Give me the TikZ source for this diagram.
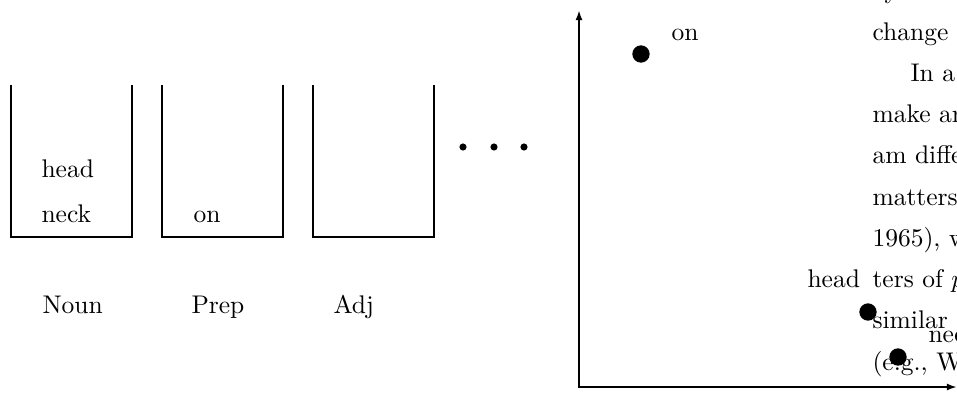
\documentclass[tikz,border=0pt]{standalone}
\usetikzlibrary{arrows.meta}
\begin{document}
\begin{tikzpicture}[x=0.392pt,y=-0.392pt,
  bin/.style={line width=1.1pt},
  word/.style={anchor=base west,inner sep=0pt},
  wpt/.style={circle,fill=black,inner sep=0pt,minimum size=6.8pt},
  ell/.style={circle,fill=black,inner sep=0pt,minimum size=2.8pt},
  axis/.style={line width=1.15pt,{Latex[length=4pt,width=2.8pt]}-{Latex[length=4pt,width=2.8pt]}}]
\useasboundingbox (0,0) rectangle (957,394);
\clip (0,0) rectangle (957,394);

% open-topped bins, one per word class
\foreach \l/\r/\n in {11/132/noun,162/283/prep,313/434/adj}{
  \coordinate (\n-tl) at (\l,85);
  \coordinate (\n-bl) at (\l,237);
  \coordinate (\n-br) at (\r,237);
  \coordinate (\n-tr) at (\r,85);
  \draw[bin] (\n-tl) -- (\n-bl) -- (\n-br) -- (\n-tr);
}

% words inside the bins
\node[word] (bhead) at (41,177) {head};
\node[word] (bneck) at (41,222) {neck};
\node[word] (bon)   at (193,222) {on};

% class labels
\node[word] (lnoun) at (42,313) {Noun};
\node[word] (lprep) at (191,313) {Prep};
\node[word] (ladj)  at (333,313) {Adj};

% ellipsis
\node[ell] (e1) at (463,147) {};
\node[ell] (e2) at (494,147) {};
\node[ell] (e3) at (524,147) {};

% axes
\coordinate (origin) at (579,387);
\coordinate (ytip) at (579,10);
\coordinate (xtip) at (957,387);
\draw[axis] (ytip) -- (origin) -- (xtip);

% points in the space
\node[wpt] (pon)   at (641,54) {};
\node[wpt] (phead) at (868,312) {};
\node[wpt] (pneck) at (898,357) {};
\node[word] (ton)   at (671,40) {on};
\node[word] (thead) at (807,287) {head};
\node[word] (tneck) at (928,342) {neck};

% running text of the page at the right edge
\node[word] (r0) at (884,-2) {y};
\node[word] (r1) at (872,40) {change};
\node[word] (r2) at (910,81.25) {In a};
\node[word] (r3) at (872,122.5) {make an};
\node[word] (r4) at (872,163.75) {am differ};
\node[word] (r5) at (872,205) {matters};
\node[word] (r6) at (872,246.25) {1965), w};
\node[word] (r7) at (872,287.5) {ters of $p$};
\node[word] (r8) at (872,328.75) {similar};
\node[word] (r9) at (872,370) {(e.g., W};
\end{tikzpicture}
\end{document}
